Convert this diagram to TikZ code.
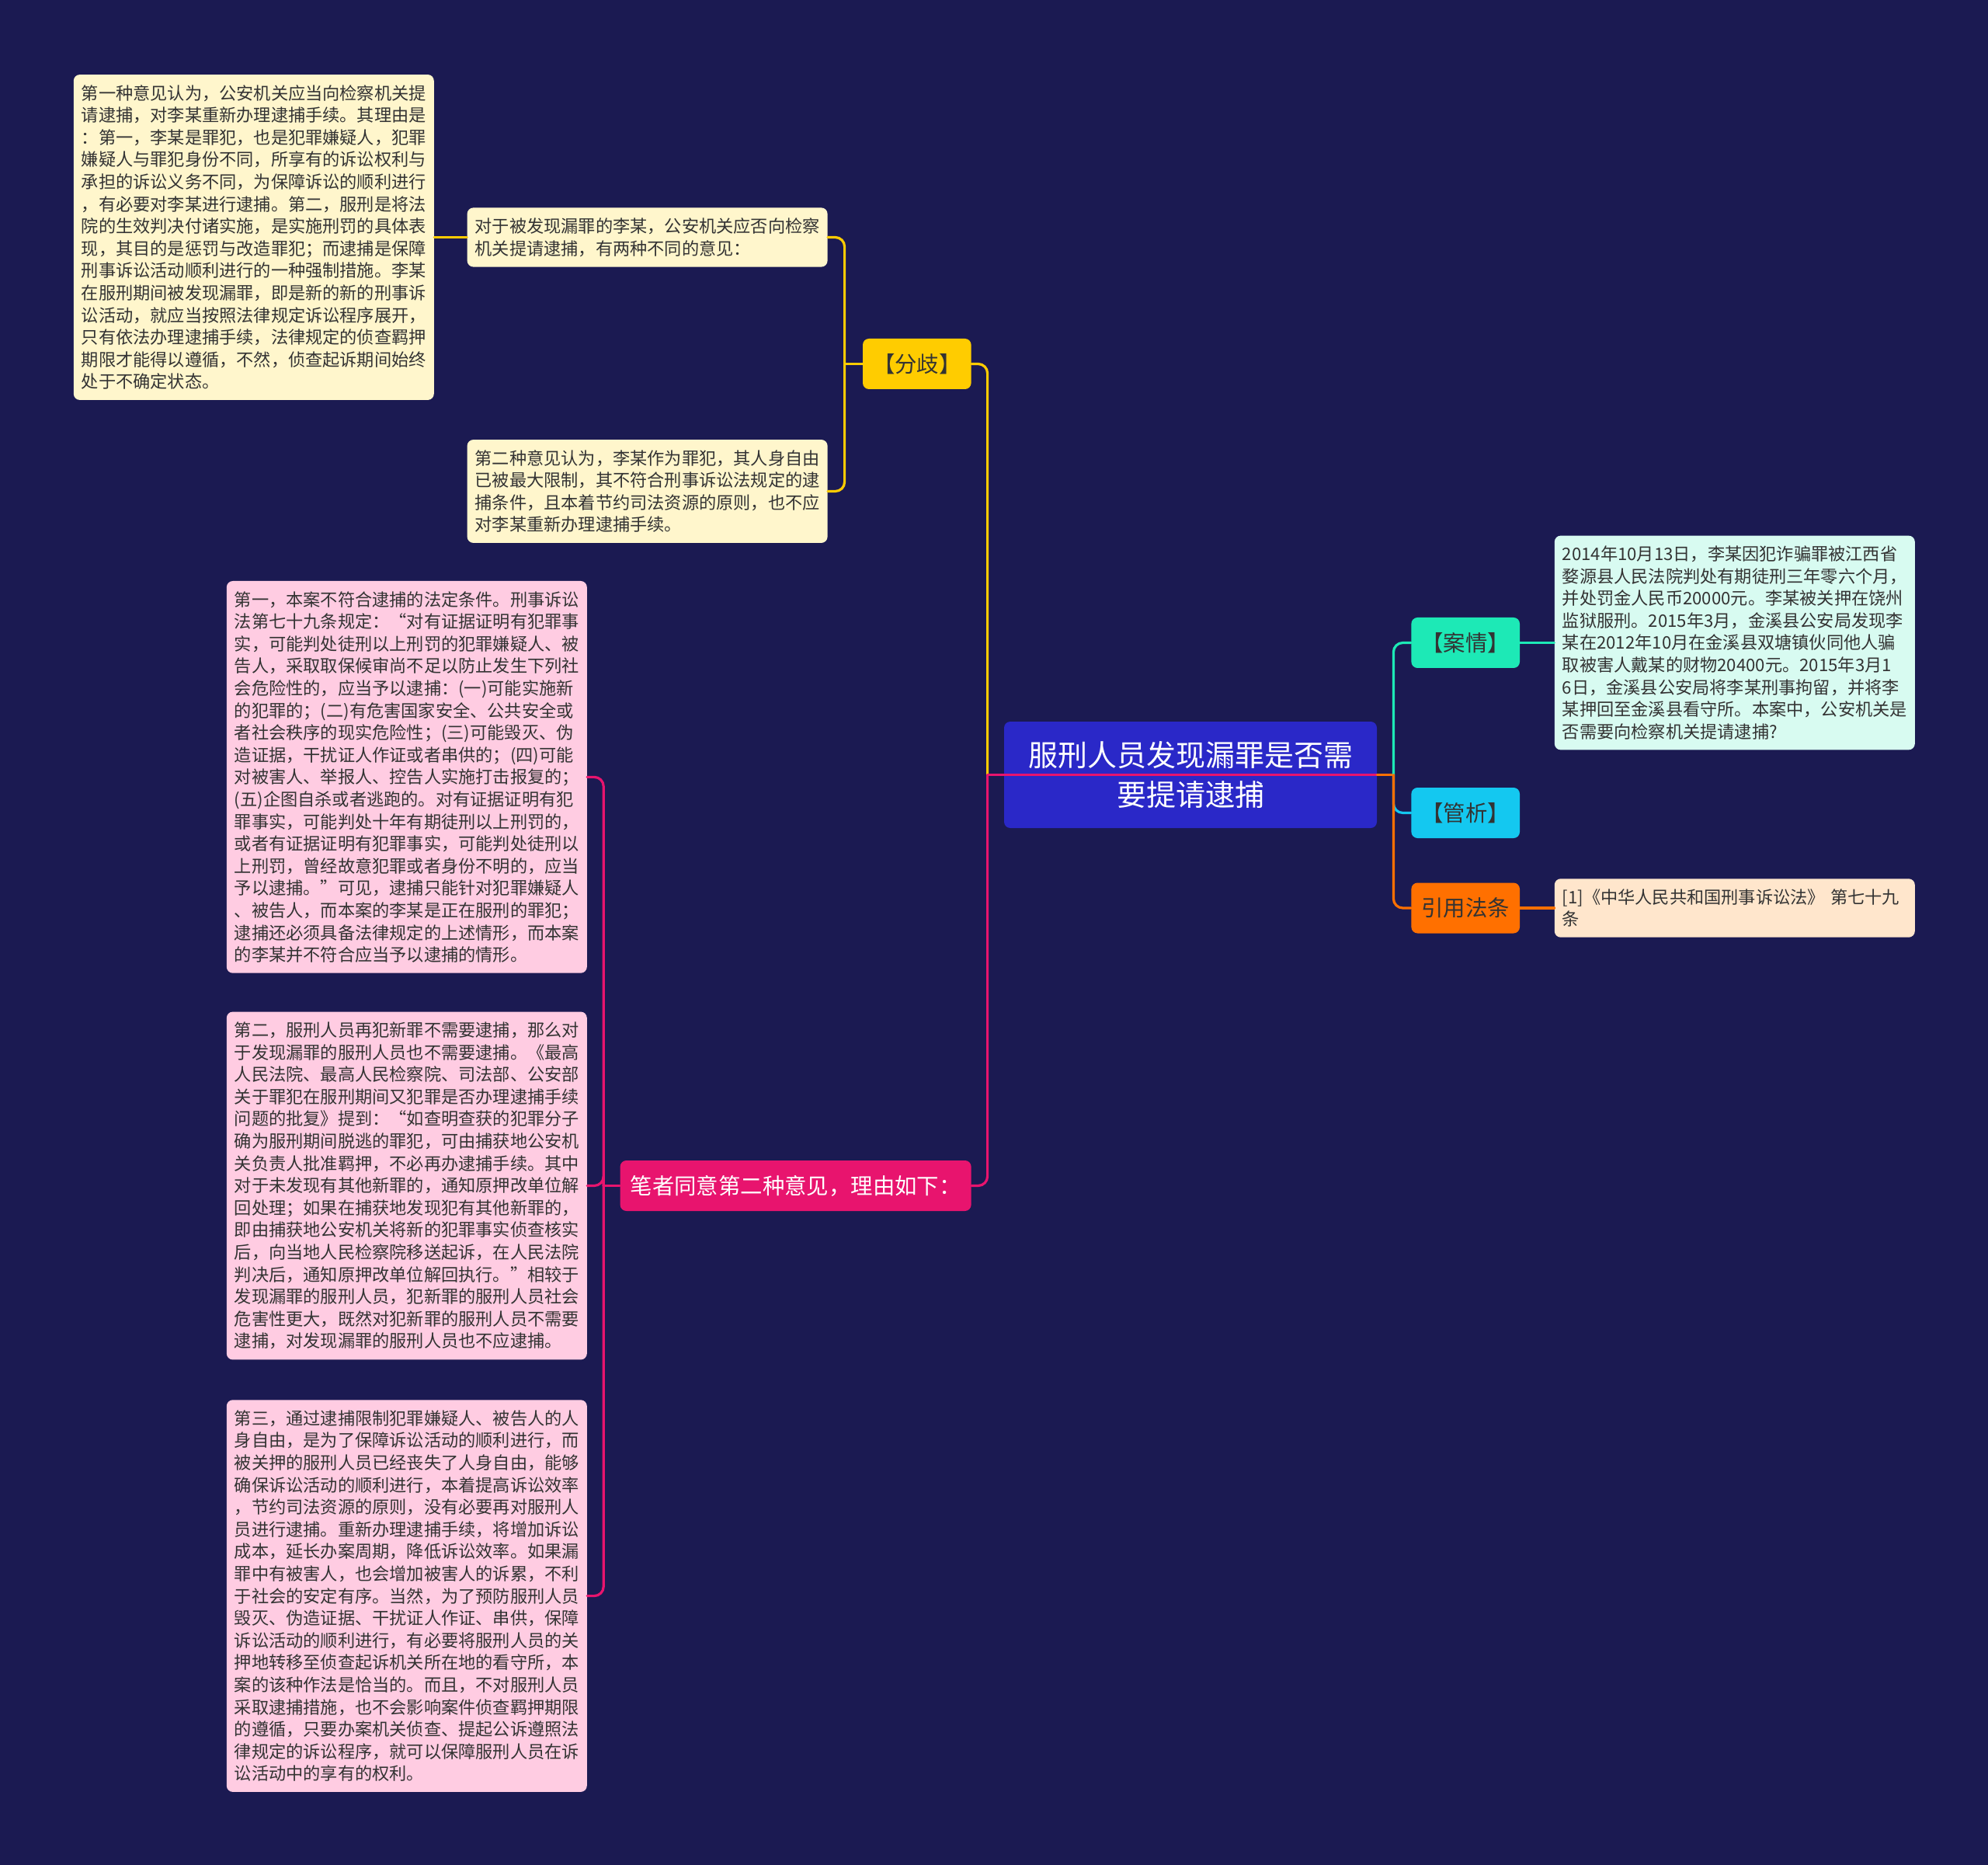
\documentclass[tikz,border=0pt]{standalone}
\usepackage{fontspec}
\setmainfont{Noto Sans CJK SC}
\usetikzlibrary{positioning}
\definecolor{bgnavy}{HTML}{1B1A52}
\definecolor{rootblue}{HTML}{2A28C8}
\definecolor{ylw}{HTML}{FFCC00}
\definecolor{ylwlight}{HTML}{FFF6CC}
\definecolor{pnk}{HTML}{E8146E}
\definecolor{pnklight}{HTML}{FFCCE2}
\definecolor{tea}{HTML}{1DE9B6}
\definecolor{tealight}{HTML}{D8FBF1}
\definecolor{cyn}{HTML}{14C8F0}
\definecolor{org}{HTML}{FF7000}
\definecolor{orglight}{HTML}{FFE6CC}
\definecolor{txtdark}{HTML}{333333}
\begin{document}
\begin{tikzpicture}[x=1pt,y=-1pt,node distance=25pt,every node/.style={rounded corners=4pt,inner sep=0pt},
  note/.style={text width=222pt,align=left,inner xsep=5pt,inner ysep=6.6pt,font=\fontsize{11.1pt}{14.3pt}\selectfont,text=txtdark},
  branch/.style={minimum height=32.5pt,inner xsep=6.5pt,font=\fontsize{14.2pt}{17pt}\selectfont,text=txtdark},
  link/.style={line width=1.6pt,line cap=round},
  elbow/.style={link,rounded corners=6pt}]
\fill[bgnavy] (0,0) rectangle (1280,1200.5);
\useasboundingbox (0,0) rectangle (1280,1200.5);
\node[fill=rootblue,text=white,minimum width=240pt,minimum height=68.5pt,align=center,font=\fontsize{19pt}{25.3pt}\selectfont] (root) at (766.5,498.75) {服刑人员发现漏罪是否需\\要提请逮捕};
\node[branch,fill=ylw,anchor=east] (fenqi) at (625.5,234.25) {【分歧】};
\node[branch,fill=pnk,text=white,anchor=east] (bizhe) at (625.5,763.25) {笔者同意第二种意见，理由如下：};
\node[branch,fill=tea,anchor=west] (anqing) at (908.5,413.75) {【案情】};
\node[branch,fill=cyn,anchor=west] (guanxi) at (908.5,523.25) {【管析】};
\node[branch,fill=org,anchor=west] (fatiao) at (908.5,584.5) {引用法条};
\node[note,fill=ylwlight,anchor=east] (wenti) at (533,152.75) {对于被发现漏罪的李某，公安机关应否向检察\\机关提请逮捕，有两种不同的意见：};
\node[note,fill=ylwlight,left=21pt of wenti] (yijian1) {第一种意见认为，公安机关应当向检察机关提\\请逮捕，对李某重新办理逮捕手续。其理由是\\：第一，李某是罪犯，也是犯罪嫌疑人，犯罪\\嫌疑人与罪犯身份不同，所享有的诉讼权利与\\承担的诉讼义务不同，为保障诉讼的顺利进行\\，有必要对李某进行逮捕。第二，服刑是将法\\院的生效判决付诸实施，是实施刑罚的具体表\\现，其目的是惩罚与改造罪犯；而逮捕是保障\\刑事诉讼活动顺利进行的一种强制措施。李某\\在服刑期间被发现漏罪，即是新的新的刑事诉\\讼活动，就应当按照法律规定诉讼程序展开，\\只有依法办理逮捕手续，法律规定的侦查羁押\\期限才能得以遵循，不然，侦查起诉期间始终\\处于不确定状态。};
\node[note,fill=ylwlight,anchor=east] (yijian2) at (533,316.25) {第二种意见认为，李某作为罪犯，其人身自由\\已被最大限制，其不符合刑事诉讼法规定的逮\\捕条件，且本着节约司法资源的原则，也不应\\对李某重新办理逮捕手续。};
\node[note,fill=pnklight,left=21pt of bizhe] (liyou2) {第二，服刑人员再犯新罪不需要逮捕，那么对\\于发现漏罪的服刑人员也不需要逮捕。《最高\\人民法院、最高人民检察院、司法部、公安部\\关于罪犯在服刑期间又犯罪是否办理逮捕手续\\问题的批复》提到：“如查明查获的犯罪分子\\确为服刑期间脱逃的罪犯，可由捕获地公安机\\关负责人批准羁押，不必再办逮捕手续。其中\\对于未发现有其他新罪的，通知原押改单位解\\回处理；如果在捕获地发现犯有其他新罪的，\\即由捕获地公安机关将新的犯罪事实侦查核实\\后，向当地人民检察院移送起诉，在人民法院\\判决后，通知原押改单位解回执行。”相较于\\发现漏罪的服刑人员，犯新罪的服刑人员社会\\危害性更大，既然对犯新罪的服刑人员不需要\\逮捕，对发现漏罪的服刑人员也不应逮捕。};
\node[note,fill=pnklight,above=24.5pt of liyou2] (liyou1) {第一，本案不符合逮捕的法定条件。刑事诉讼\\法第七十九条规定：“对有证据证明有犯罪事\\实，可能判处徒刑以上刑罚的犯罪嫌疑人、被\\告人，采取取保候审尚不足以防止发生下列社\\会危险性的，应当予以逮捕：(一)可能实施新\\的犯罪的；(二)有危害国家安全、公共安全或\\者社会秩序的现实危险性；(三)可能毁灭、伪\\造证据，干扰证人作证或者串供的；(四)可能\\对被害人、举报人、控告人实施打击报复的；\\(五)企图自杀或者逃跑的。对有证据证明有犯\\罪事实，可能判处十年有期徒刑以上刑罚的，\\或者有证据证明有犯罪事实，可能判处徒刑以\\上刑罚，曾经故意犯罪或者身份不明的，应当\\予以逮捕。”可见，逮捕只能针对犯罪嫌疑人\\、被告人，而本案的李某是正在服刑的罪犯；\\逮捕还必须具备法律规定的上述情形，而本案\\的李某并不符合应当予以逮捕的情形。};
\node[note,fill=pnklight,below=25.5pt of liyou2] (liyou3) {第三，通过逮捕限制犯罪嫌疑人、被告人的人\\身自由，是为了保障诉讼活动的顺利进行，而\\被关押的服刑人员已经丧失了人身自由，能够\\确保诉讼活动的顺利进行，本着提高诉讼效率\\，节约司法资源的原则，没有必要再对服刑人\\员进行逮捕。重新办理逮捕手续，将增加诉讼\\成本，延长办案周期，降低诉讼效率。如果漏\\罪中有被害人，也会增加被害人的诉累，不利\\于社会的安定有序。当然，为了预防服刑人员\\毁灭、伪造证据、干扰证人作证、串供，保障\\诉讼活动的顺利进行，有必要将服刑人员的关\\押地转移至侦查起诉机关所在地的看守所，本\\案的该种作法是恰当的。而且，不对服刑人员\\采取逮捕措施，也不会影响案件侦查羁押期限\\的遵循，只要办案机关侦查、提起公诉遵照法\\律规定的诉讼程序，就可以保障服刑人员在诉\\讼活动中的享有的权利。};
\node[note,fill=tealight,right=22pt of anqing] (anqingtxt) {2014年10月13日，李某因犯诈骗罪被江西省\\婺源县人民法院判处有期徒刑三年零六个月，\\并处罚金人民币20000元。李某被关押在饶州\\监狱服刑。2015年3月，金溪县公安局发现李\\某在2012年10月在金溪县双塘镇伙同他人骗\\取被害人戴某的财物20400元。2015年3月1\\6日，金溪县公安局将李某刑事拘留，并将李\\某押回至金溪县看守所。本案中，公安机关是\\否需要向检察机关提请逮捕?};
\node[note,fill=orglight,right=22pt of fatiao] (fatiaotxt) {[1]《中华人民共和国刑事诉讼法》 第七十九\\条};
\coordinate (lj) at ([xshift=-10.5pt]root.west);
\coordinate (rj) at ([xshift=10.5pt]root.east);
\coordinate (fj) at ([xshift=-11.5pt]fenqi.west);
\coordinate (bj) at ([xshift=-10.5pt]bizhe.west);
\draw[elbow,ylw] (lj) |- (fenqi.east);\draw[elbow,pnk] (lj) |- (bizhe.east);
\draw[link,pnk] (lj) -- (root.east);\draw[link,org] (root.east) -- (rj);
\draw[elbow,tea] (rj) |- (anqing.west);\draw[elbow,cyn] (rj) |- (guanxi.west);\draw[elbow,org] (rj) |- (fatiao.west);
\draw[link,ylw] (fenqi.west) -- (fj);\draw[elbow,ylw] (fj) |- (wenti.east);\draw[elbow,ylw] (fj) |- (yijian2.east);
\draw[link,ylw] (wenti) -- (yijian1);
\draw[link,pnk] (bizhe.west) -- (bj);\draw[elbow,pnk] (bj) |- (liyou1.east);\draw[elbow,pnk] (bj) |- (liyou2.east);\draw[elbow,pnk] (bj) |- (liyou3.east);
\draw[link,tea] (anqing) -- (anqingtxt);\draw[link,org] (fatiao) -- (fatiaotxt);
\end{tikzpicture}
\end{document}
